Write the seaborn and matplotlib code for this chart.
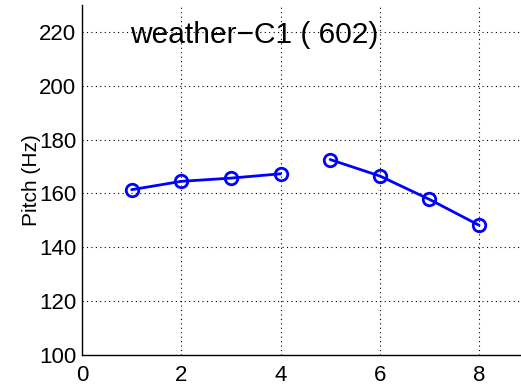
import matplotlib
matplotlib.use("Agg")
import matplotlib.pyplot as plt
import seaborn as sns
import pandas as pd

x_vals = [1, 2, 3, 4, 5, 6, 7, 8]
pitch = [161.4, 164.5, 165.7, 167.3, 172.6, 166.5, 157.8, 148.2]
segment = [0, 0, 0, 0, 1, 1, 1, 1]
title_text = "weather\u2212C1 ( 602)"
x_ticks = [0, 2, 4, 6, 8]
y_ticks = [100, 120, 140, 160, 180, 200, 220]

sns.set_style("white")
plt.rcParams['font.family'] = ['Liberation Sans', 'DejaVu Sans']
plt.rcParams['text.color'] = 'black'
plt.rcParams['axes.labelcolor'] = 'black'

df = pd.DataFrame({"x": x_vals, "pitch": pitch, "seg": segment})

fig = plt.figure(figsize=(5.21, 3.87), dpi=100)
ax = fig.add_axes([82/521, 32/387, 1 - 82/521 + 0.01, 350/387])

sns.lineplot(data=df, x="x", y="pitch", units="seg", estimator=None, ax=ax,
             color=(0, 0, 1), linewidth=2, marker="o", markersize=9,
             markerfacecolor="none", markeredgecolor=(0, 0, 1), markeredgewidth=2)

ax.set_xlim(0, 8.95)
ax.set_ylim(100, 230)
ax.set_xticks(x_ticks)
ax.set_yticks(y_ticks)
ax.tick_params(labelsize=16, direction="in", length=4, colors="black")
ax.tick_params(axis="y", pad=4)
ax.tick_params(axis="x", pad=7)
ax.grid(True, linestyle=(0, (1, 3)), color="black", linewidth=0.8)
for s in ["top", "right"]:
    ax.spines[s].set_visible(False)
for s in ["left", "bottom"]:
    ax.spines[s].set_color("black")
    ax.spines[s].set_linewidth(1)
ax.set_xlabel("")
ax.set_ylabel("Pitch (Hz)", fontsize=15, labelpad=-1, color="black")
ax.text(0.97, 219, title_text, fontsize=21.5, va="center", ha="left", color="black")

fig.savefig("out.png", dpi=100)
